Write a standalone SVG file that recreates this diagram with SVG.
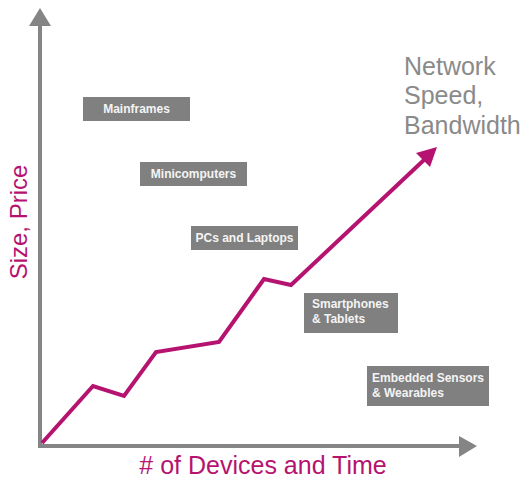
<svg xmlns="http://www.w3.org/2000/svg" width="525" height="479" viewBox="0 0 525 479">
<style>
.box{fill:#808080}
.bt{fill:#f4f4f4;font-family:"Liberation Sans",Arial,sans-serif;font-size:12px;font-weight:bold}
.ax{stroke:#858585;stroke-width:4;fill:none}
.mag{fill:#B5136F;font-family:"Liberation Sans",Arial,sans-serif}
</style>
<rect width="525" height="479" fill="#fff"/>
<g id="connectors">
<line class="ax" x1="40" y1="447" x2="40" y2="24"/>
<polygon points="40,8 29,26 51,26" fill="#858585"/>
<line class="ax" x1="38" y1="446" x2="461" y2="446"/>
<polygon points="477,446 459,436 459,457" fill="#858585"/>
<polyline points="42,443 93,386 124,396 156,352 219,342 264,279 291,285 425,159" fill="none" stroke="#B5136F" stroke-width="4" stroke-linejoin="miter"/>
<polygon points="437,147 416,153 430,167" fill="#B5136F"/>
</g>
<g id="axis-y-label"><text class="mag" font-size="24" transform="translate(27,222) rotate(-90)" text-anchor="middle">Size, Price</text></g>
<g id="axis-x-label"><text class="mag" font-size="25" x="263" y="474" text-anchor="middle"># of Devices and Time</text></g>
<g id="network-label" fill="#8a8a8a" font-family="'Liberation Sans',Arial,sans-serif" font-size="25">
<text x="404" y="75">Network</text>
<text x="404" y="104">Speed,</text>
<text x="404" y="134">Bandwidth</text>
</g>
<g id="mainframes"><rect class="box" x="83" y="97" width="107" height="24"/><text class="bt" x="136.5" y="113" text-anchor="middle">Mainframes</text></g>
<g id="minicomputers"><rect class="box" x="140" y="162" width="107" height="24"/><text class="bt" x="193.5" y="178" text-anchor="middle">Minicomputers</text></g>
<g id="pcs"><rect class="box" x="191" y="226" width="107" height="24"/><text class="bt" x="244.5" y="242" text-anchor="middle">PCs and Laptops</text></g>
<g id="smartphones"><rect class="box" x="304" y="293" width="94" height="40"/><text class="bt" x="312" y="308">Smartphones</text><text class="bt" x="312" y="323">&amp; Tablets</text></g>
<g id="embedded"><rect class="box" x="367" y="366" width="122" height="40"/><text class="bt" x="372" y="382">Embedded Sensors</text><text class="bt" x="372" y="397">&amp; Wearables</text></g>
</svg>
